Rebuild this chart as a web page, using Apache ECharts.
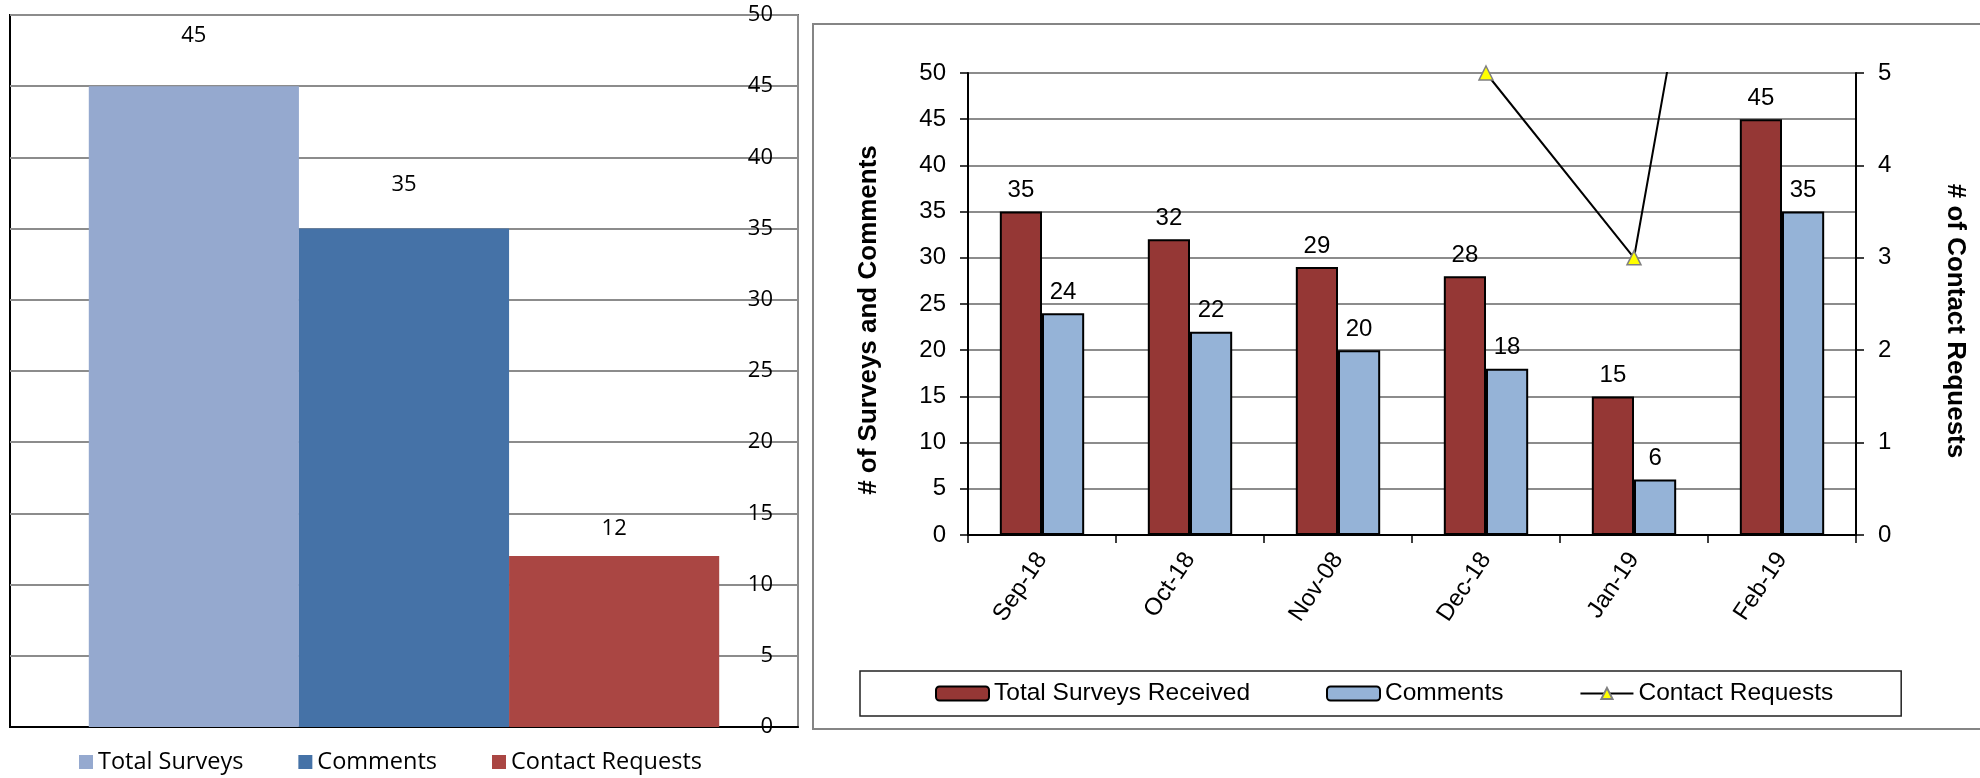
<!DOCTYPE html>
<html>
<head>
<meta charset="utf-8">
<script src="https://cdn.jsdelivr.net/npm/echarts@6/dist/echarts.min.js"></script>
<style>
  html, body { margin: 0; padding: 0; background: #fff; }
  #summaryChart { position: absolute; left: 0; top: 0; width: 806px; height: 778px; }
  #monthlyChart { position: absolute; left: 806px; top: 0; width: 1174px; height: 778px; }
</style>
</head>
<body>
<div id="summaryChart"></div>
<div id="monthlyChart"></div>
<script>
// summary (left) chart
var summaryNames = ["Total Surveys", "Comments", "Contact Requests"];
var summaryValues = [45, 35, 12];
var summaryColors = ["#95A9CF", "#4572A7", "#AA4643"];
var summaryLabelGap = [39, 33, 16];

// monthly (right) chart
var months = ["Sep-18", "Oct-18", "Nov-08", "Dec-18", "Jan-19", "Feb-19"];
var totalSurveys = [35, 32, 29, 28, 15, 45];
var comments = [24, 22, 20, 18, 6, 35];
var contactRequests = [null, null, null, 5, 3, 12];

var leftFont = "Open Sans";
var rightFont = "Liberation Sans";

var summaryChart = echarts.init(document.getElementById("summaryChart"));
var option1 = {
  animation: false,
  textStyle: { fontFamily: leftFont },
  grid: {
    left: 10, right: 8, top: 15, bottom: 51,
    show: true, borderColor: "#000", borderWidth: 2
  },
  legend: {
    left: 79, top: 750, padding: 0, itemGap: 55,
    itemWidth: 14, itemHeight: 14, icon: "rect",
    textStyle: { fontFamily: leftFont, fontSize: 23.5, color: "#000" },
    data: summaryNames
  },
  xAxis: {
    type: "category",
    data: [""],
    axisLine: { lineStyle: { color: "#000", width: 2 } },
    axisTick: { show: false },
    axisLabel: { show: false }
  },
  yAxis: {
    type: "value",
    position: "right",
    min: 0, max: 50, interval: 5,
    axisLine: { show: true, lineStyle: { color: "#8c8c8c", width: 2 } },
    axisTick: { show: false },
    axisLabel: { inside: true, margin: 25, fontSize: 22, color: "#000", fontFamily: leftFont },
    splitLine: { lineStyle: { color: "#8c8c8c", width: 2 } }
  },
  series: summaryNames.map(function (name, i) {
    return {
      name: name,
      type: "bar",
      barGap: 0,
      barCategoryGap: "20%",
      itemStyle: { color: summaryColors[i] },
      label: {
        show: true, position: "top", distance: summaryLabelGap[i],
        fontSize: 22, color: "#000", fontFamily: leftFont
      },
      data: [summaryValues[i]]
    };
  })
};
summaryChart.setOption(option1);

var monthlyChart = echarts.init(document.getElementById("monthlyChart"));
var barLabel = { show: true, position: "top", distance: 9, fontSize: 24, color: "#000", fontFamily: rightFont };
var option2 = {
  animation: false,
  textStyle: { fontFamily: rightFont },
  graphic: [{
    type: "rect",
    shape: { x: 7, y: 24, width: 1200, height: 705 },
    style: { fill: "none", stroke: "#858585", lineWidth: 2 },
    silent: true
  }],
  grid: { left: 162, right: 124, top: 73, bottom: 243 },
  legend: {
    left: 54, top: 671,
    padding: [10, 68, 10, 75],
    itemGap: 76, itemWidth: 53, itemHeight: 14,
    borderColor: "#222", borderWidth: 1.5,
    textStyle: { fontFamily: rightFont, fontSize: 24.5, color: "#000" },
    data: ["Total Surveys Received", "Comments", "Contact Requests"]
  },
  xAxis: {
    type: "category",
    data: months,
    axisLine: { lineStyle: { color: "#000", width: 2 } },
    axisTick: { show: true, length: 8, lineStyle: { color: "#000", width: 1.5 } },
    axisLabel: { rotate: 56, margin: 20, fontSize: 24, color: "#000", fontFamily: rightFont }
  },
  yAxis: [{
    type: "value",
    min: 0, max: 50, interval: 5,
    name: "# of Surveys and Comments",
    nameLocation: "middle", nameRotate: 90, nameGap: 86,
    nameTextStyle: { fontSize: 26, fontWeight: "bold", color: "#000", fontFamily: rightFont, padding: [0, 32, 0, 0] },
    axisLine: { show: true, lineStyle: { color: "#000", width: 2 } },
    axisTick: { show: true, inside: false, length: 8, lineStyle: { color: "#000", width: 1.5 } },
    axisLabel: { margin: 22, fontSize: 24, color: "#000", fontFamily: rightFont },
    splitLine: { lineStyle: { color: "#8c8c8c", width: 2 } }
  }, {
    type: "value",
    position: "right",
    min: 0, max: 5, interval: 1,
    name: "# of Contact Requests",
    nameLocation: "middle", nameRotate: -90, nameGap: 86,
    nameTextStyle: { fontSize: 26, fontWeight: "bold", color: "#000", fontFamily: rightFont, padding: [0, 0, 0, 34] },
    axisLine: { show: true, lineStyle: { color: "#000", width: 2 } },
    axisTick: { show: true, length: 8, lineStyle: { color: "#000", width: 1.5 } },
    axisLabel: { margin: 22, fontSize: 24, color: "#000", fontFamily: rightFont },
    splitLine: { show: false }
  }],
  series: [{
    name: "Total Surveys Received",
    type: "bar",
    barGap: 0,
    barCategoryGap: "43%",
    itemStyle: { color: "#953735", borderColor: "#000", borderWidth: 2 },
    label: barLabel,
    data: totalSurveys
  }, {
    name: "Comments",
    type: "bar",
    itemStyle: { color: "#95B3D7", borderColor: "#000", borderWidth: 2 },
    label: barLabel,
    data: comments
  }, {
    name: "Contact Requests",
    type: "line",
    yAxisIndex: 1,
    symbol: "triangle",
    symbolSize: 14,
    lineStyle: { color: "#000", width: 2 },
    itemStyle: { color: "#FFFF00", borderColor: "#808080", borderWidth: 1.5 },
    data: contactRequests
  }]
};
monthlyChart.setOption(option2);
</script>
</body>
</html>
